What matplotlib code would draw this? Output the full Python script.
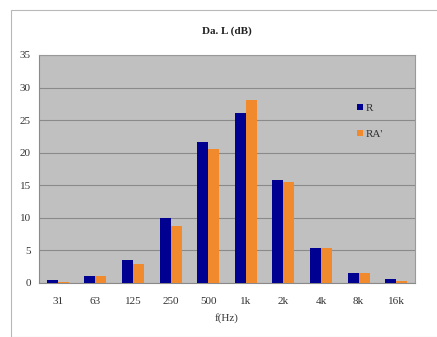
import matplotlib
matplotlib.use("Agg")
import matplotlib.pyplot as plt
import numpy as np
from matplotlib.patches import Rectangle

bands = ['31', '63', '125', '250', '500', '1k', '2k', '4k', '8k', '16k']
r_vals = [0.5, 1.1, 3.6, 10.0, 21.7, 26.1, 15.8, 5.4, 1.6, 0.6]
ra_vals = [0.2, 1.0, 2.9, 8.8, 20.6, 28.1, 15.5, 5.3, 1.5, 0.3]

plt.rcParams['font.family'] = ['Liberation Serif', 'DejaVu Serif']

x = np.arange(len(bands))
width = 0.29

fig = plt.figure(figsize=(4.37, 3.37), dpi=100)
# chart frame, kept behind the axes
fig.patches.append(Rectangle((11 / 437, 0), 1.0, 1 - 10 / 337, transform=fig.transFigure,
                             facecolor='white', edgecolor='#b8b8b8', linewidth=0.8,
                             zorder=-5))
ax = fig.add_axes([39 / 437, (337 - 283) / 337, (415 - 39) / 437, (283 - 55) / 337])
ax.set_facecolor('#c0c0c0')

ax.bar(x - width / 2, r_vals, width, label='R', color='#000091', zorder=3)
ax.bar(x + width / 2, ra_vals, width, label="RA'", color='#f08a2c', zorder=3)

ax.set_xlim(-0.5, len(bands) - 0.5)
ax.set_ylim(0, 35)
ax.set_yticks(range(0, 36, 5))
ax.yaxis.grid(True, color='#8a8a8a', linewidth=0.8, zorder=1)
ax.set_axisbelow(True)
ax.set_xticks(x)
ax.set_xticklabels(bands)
ax.tick_params(axis='both', length=0, labelsize=8, colors='#333333', pad=6)
ax.tick_params(axis='x', pad=10)
for side in ['top', 'right']:
    ax.spines[side].set_color('#9a9a9a')
for side in ['left', 'bottom']:
    ax.spines[side].set_color('#8a8a8a')

ax.set_xlabel('f(Hz)', fontsize=8, color='#333333', labelpad=5)
fig.text((39 + 415) / 2 / 437, 1 - 31 / 337, 'Da. L (dB)', ha='center', va='center',
         fontsize=8, fontweight='bold', color='#222222')

ax.legend(loc='upper left', bbox_to_anchor=(0.82, 0.83), frameon=False, fontsize=8,
          handlelength=0.55, handleheight=0.55, handletextpad=0.2, labelspacing=1.5,
          labelcolor='#333333')

fig.savefig('out.png', dpi=100)
